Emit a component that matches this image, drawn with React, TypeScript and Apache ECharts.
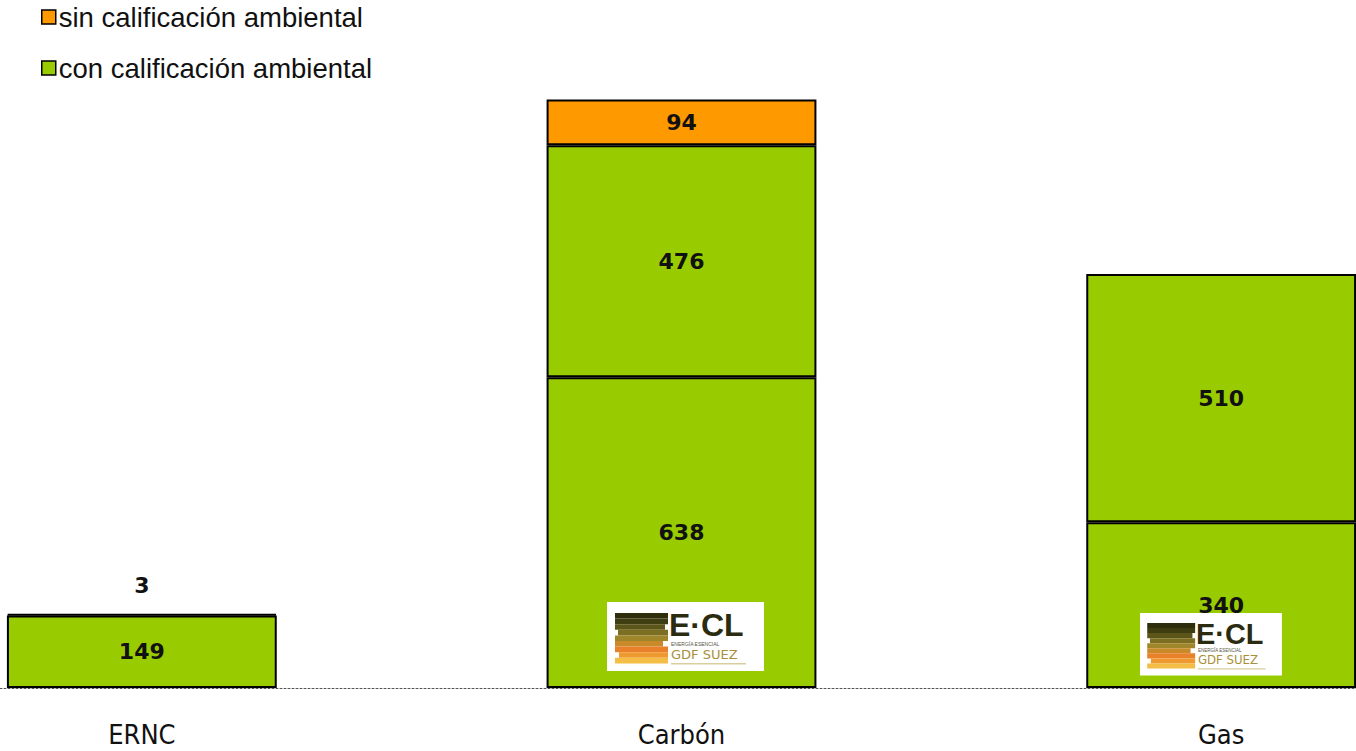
import React, { useEffect, useRef } from "react";
import * as echarts from "echarts";

const categories = ["ERNC", "Carbón", "Gas"];
const conBase = [149, 638, 340];
const conUpper = [null, 476, 510];
const sinCalif = [3, 94, null];
const seriesNames = ["sin calificación ambiental", "con calificación ambiental"];

const GREEN = "#99cc00";
const ORANGE = "#ff9900";

function logo(x: number, y: number, s: number) {
  const stripeRows = [
    { c: "#2e2e0c", l: 0, w: 53 },
    { c: "#3f3d12", l: 0, w: 53 },
    { c: "#5c5519", l: 0, w: 50 },
    { c: "#7d6f22", l: 3, w: 50 },
    { c: "#a0862a", l: 0, w: 53 },
    { c: "#c98a2a", l: 0, w: 48 },
    { c: "#e9802a", l: 0, w: 53 },
    { c: "#ee9a30", l: 4, w: 49 },
    { c: "#f4bd45", l: 0, w: 53 },
  ];
  const Z = 100;
  const children: any[] = [
    { type: "rect", z: Z, shape: { x: 0, y: 0, width: 157, height: 69 }, style: { fill: "#ffffff" } },
  ];
  stripeRows.forEach((r, i) => {
    children.push({
      type: "rect",
      z: Z + 1,
      shape: { x: 8 + r.l, y: 11 + i * 5.6, width: r.w, height: 5.6 },
      style: { fill: r.c },
    });
  });
  children.push(
    {
      type: "text",
      z: Z + 1,
      x: 62,
      y: 38,
      style: {
        text: "E·CL",
        fill: "#2b2b10",
        font: "bold 32px 'Liberation Sans', Arial, sans-serif",
        verticalAlign: "bottom",
        lineHeight: 30,
      },
    },
    {
      type: "text",
      z: Z + 1,
      x: 64,
      y: 39,
      style: { text: "ENERGÍA ESENCIAL", fill: "#555544", font: "5px 'Liberation Sans', sans-serif" },
    },
    {
      type: "text",
      z: Z + 1,
      x: 64,
      y: 46,
      style: { text: "GDF SUEZ", fill: "#a8903a", font: "13px 'DejaVu Sans', sans-serif" },
    },
    { type: "rect", z: Z + 1, shape: { x: 64, y: 61, width: 75, height: 1.5 }, style: { fill: "#d8cfa0" } }
  );
  return { type: "group", x, y, scaleX: s, scaleY: s, z: Z, children };
}

export default function App() {
  const ref = useRef<HTMLDivElement>(null);

  useEffect(() => {
    document.body.style.margin = "0";
    if (!ref.current) return;
    const chart = echarts.init(ref.current, null, { renderer: "svg" });
    const labelBase = {
      show: true,
      position: "inside",
      color: "#111111",
      fontSize: 22,
      fontWeight: "bold",
      fontFamily: "'DejaVu Sans', Verdana, sans-serif",
    };
    const itemStyle = (c: string) => ({ color: c, borderColor: "#000000", borderWidth: 2 });
    chart.setOption({
      animation: false,
      backgroundColor: "#ffffff",
      legend: {
        orient: "vertical",
        left: 36,
        top: -2,
        icon: "rect",
        itemWidth: 14,
        itemHeight: 14,
        itemGap: 23,
        data: seriesNames,
        selectedMode: false,
        textStyle: {
          fontSize: 27.5,
          lineHeight: 27,
          color: "#111111",
          fontFamily: "'Liberation Sans', Arial, sans-serif",
          padding: [0, 0, 0, -2],
        },
        itemStyle: { borderColor: "#000000", borderWidth: 1.5 },
      },
      grid: {
        left: -128,
        right: -135,
        top: 6,
        bottom: 63,
        containLabel: false,
        outerBoundsMode: "none",
      },
      xAxis: {
        type: "category",
        data: categories,
        axisLine: { show: true, lineStyle: { color: "#555555", type: [2, 2], width: 1 } },
        axisTick: { show: false },
        axisLabel: {
          margin: 33,
          fontSize: 27,
          color: "#111111",
          fontFamily: "'DejaVu Sans Condensed', 'DejaVu Sans', sans-serif",
        },
      },
      yAxis: {
        type: "value",
        min: 0,
        max: 1400,
        show: false,
        splitLine: { show: false },
      },
      series: [
        {
          name: seriesNames[1],
          type: "bar",
          stack: "total",
          barWidth: "50%",
          data: conBase,
          itemStyle: itemStyle(GREEN),
          label: labelBase,
        },
        {
          name: seriesNames[1],
          type: "bar",
          stack: "total",
          barWidth: "50%",
          data: conUpper,
          itemStyle: itemStyle(GREEN),
          label: labelBase,
        },
        {
          name: seriesNames[0],
          type: "bar",
          stack: "total",
          barWidth: "50%",
          data: sinCalif.map((v, i) =>
            i === 0 && v !== null
              ? { value: v, label: { position: "top", distance: 17 } }
              : v
          ),
          itemStyle: itemStyle(ORANGE),
          label: labelBase,
        },
      ],
      graphic: [logo(607, 602, 1), logo(1140, 613, 142 / 157)],
    });
    return () => chart.dispose();
  }, []);

  return <div ref={ref} style={{ width: 1356, height: 751 }} />;
}
